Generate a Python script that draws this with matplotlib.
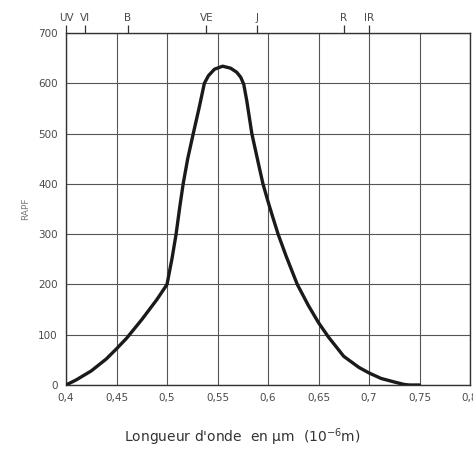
import matplotlib
matplotlib.use("Agg")
import matplotlib.pyplot as plt

# Data
wavelength = [0.400, 0.410, 0.425, 0.440, 0.450, 0.460, 0.475, 0.490, 0.500,
              0.505, 0.509, 0.5125, 0.516, 0.5205, 0.526, 0.532, 0.537, 0.541, 0.547,
              0.555, 0.563, 0.569, 0.573, 0.576, 0.579, 0.584, 0.590, 0.595,
              0.600, 0.605, 0.610, 0.618, 0.629, 0.640, 0.650, 0.660, 0.675,
              0.690, 0.700, 0.712, 0.725, 0.735, 0.740, 0.750]
rapf = [0, 10, 28, 52, 72, 93, 130, 170, 200,
        252, 300, 352, 400, 450, 500, 553, 600, 615, 628,
        634, 630, 622, 612, 598, 565, 500, 445, 400,
        365, 332, 300, 256, 200, 158, 124, 95, 57,
        35, 24, 13, 6, 1, 0, 0]

x_ticks = [0.40, 0.45, 0.50, 0.55, 0.60, 0.65, 0.70, 0.75, 0.80]
x_tick_labels = ["0,4", "0,45", "0,5", "0,55", "0,6", "0,65", "0,7", "0,75", "0,8"]
y_ticks = [0, 100, 200, 300, 400, 500, 600, 700]

color_pos = [0.400, 0.419, 0.461, 0.539, 0.589, 0.675, 0.700]
color_names = ["UV", "VI", "B", "VE", "J", "R", "IR"]

fig = plt.figure(figsize=(4.73, 4.50), dpi=100)
ax = fig.add_axes([66/473, 1-385/450, (470-66)/473, (385-33)/450])

grey = "#4a4a4a"
ax.plot(wavelength, rapf, color="#1a1a1a", lw=2.4, solid_capstyle="round",
        solid_joinstyle="round", zorder=3)

ax.set_xlim(0.4, 0.8)
ax.set_ylim(0, 700)
ax.set_xticks(x_ticks)
ax.set_xticklabels(x_tick_labels)
ax.set_yticks(y_ticks)
ax.grid(True, color="#555555", lw=0.8)
ax.tick_params(length=0, labelsize=7.5, labelcolor=grey, pad=6)
for s in ax.spines.values():
    s.set_color("#333333")
    s.set_linewidth(1.0)

# Top color band ticks
sec = ax.secondary_xaxis("top")
sec.set_xticks(color_pos)
sec.set_xticklabels(color_names)
sec.tick_params(direction="out", length=6, width=0.9, color="#333333",
                labelsize=7.5, labelcolor=grey, pad=1)
sec.spines["top"].set_visible(False)

ax.set_ylabel("RAPF", fontsize=6.5, color="#777777", labelpad=6)
fig.text(242/473, 1-437/450, "Longueur d'onde  en µm  (10$^{-6}$m)",
         ha="center", va="center", fontsize=10, color="#333333")

fig.savefig("out.png", dpi=100)
